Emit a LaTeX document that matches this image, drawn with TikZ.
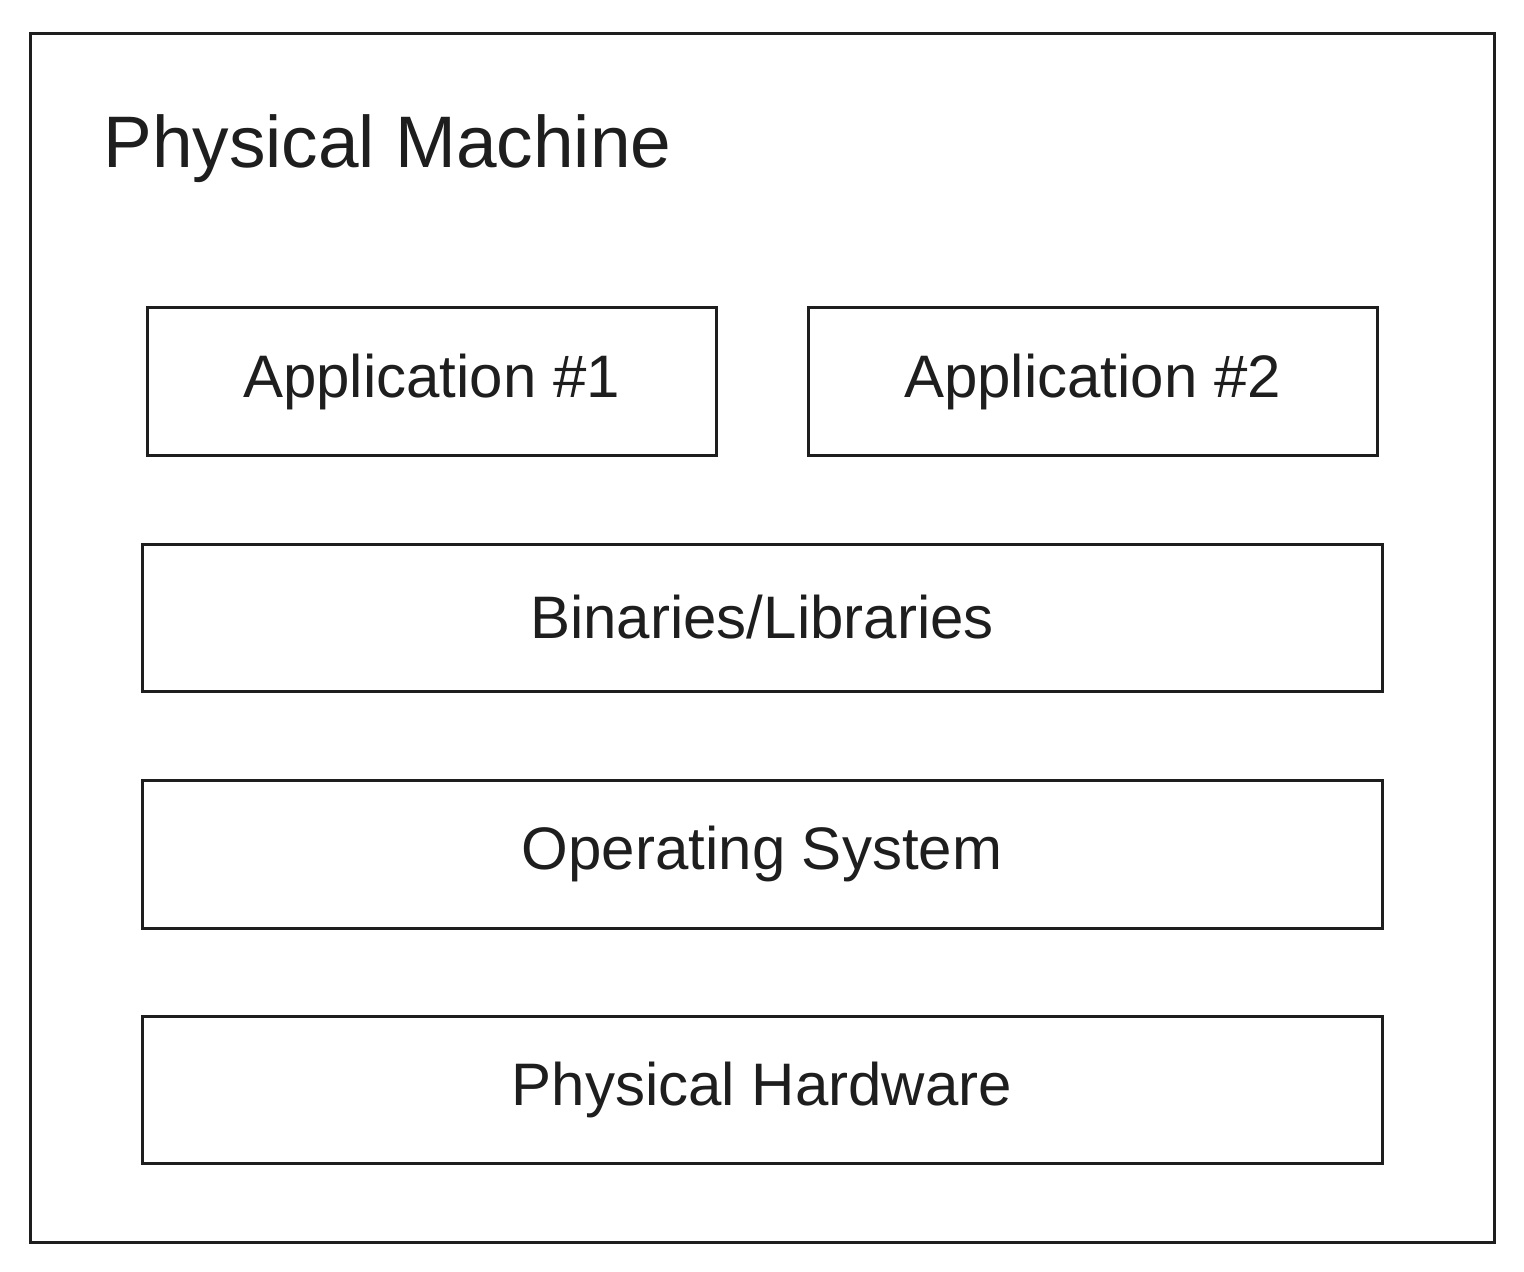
\documentclass[tikz,border=0pt]{standalone}
\usepackage{fontspec}
\setmainfont{Liberation Sans}
\definecolor{ink}{HTML}{1E1E1E}
\begin{document}
\begin{tikzpicture}[x=0.5pt,y=-0.5pt,
  layer/.style={draw=ink,line width=1.5pt,rectangle,inner sep=0pt,text=ink,
    font=\fontsize{30}{36}\selectfont}]
\useasboundingbox (0,0) rectangle (1524,1272);
\node[draw=ink,line width=1.5pt,rectangle,inner sep=0pt,minimum width=732pt,minimum height=604pt] (machine) at (762,638) {};
\node[anchor=base west,inner sep=0pt,text=ink,font=\fontsize{36.5}{44}\selectfont] (title) at (103,168) {Physical Machine};
\node[layer,minimum width=284.5pt,minimum height=74pt] (app1) at (431.5,382) {Application \#1};
\node[layer,minimum width=284.5pt,minimum height=74pt] (app2) at (1092.5,382) {Application \#2};
\node[layer,minimum width=620pt,minimum height=73.5pt] (bins) at (762,617.5) {Binaries/Libraries};
\node[layer,minimum width=620pt,minimum height=74pt] (os) at (762,854) {Operating System};
\node[layer,minimum width=620pt,minimum height=73.5pt] (hw) at (762,1089.5) {Physical Hardware};
\end{tikzpicture}
\end{document}
